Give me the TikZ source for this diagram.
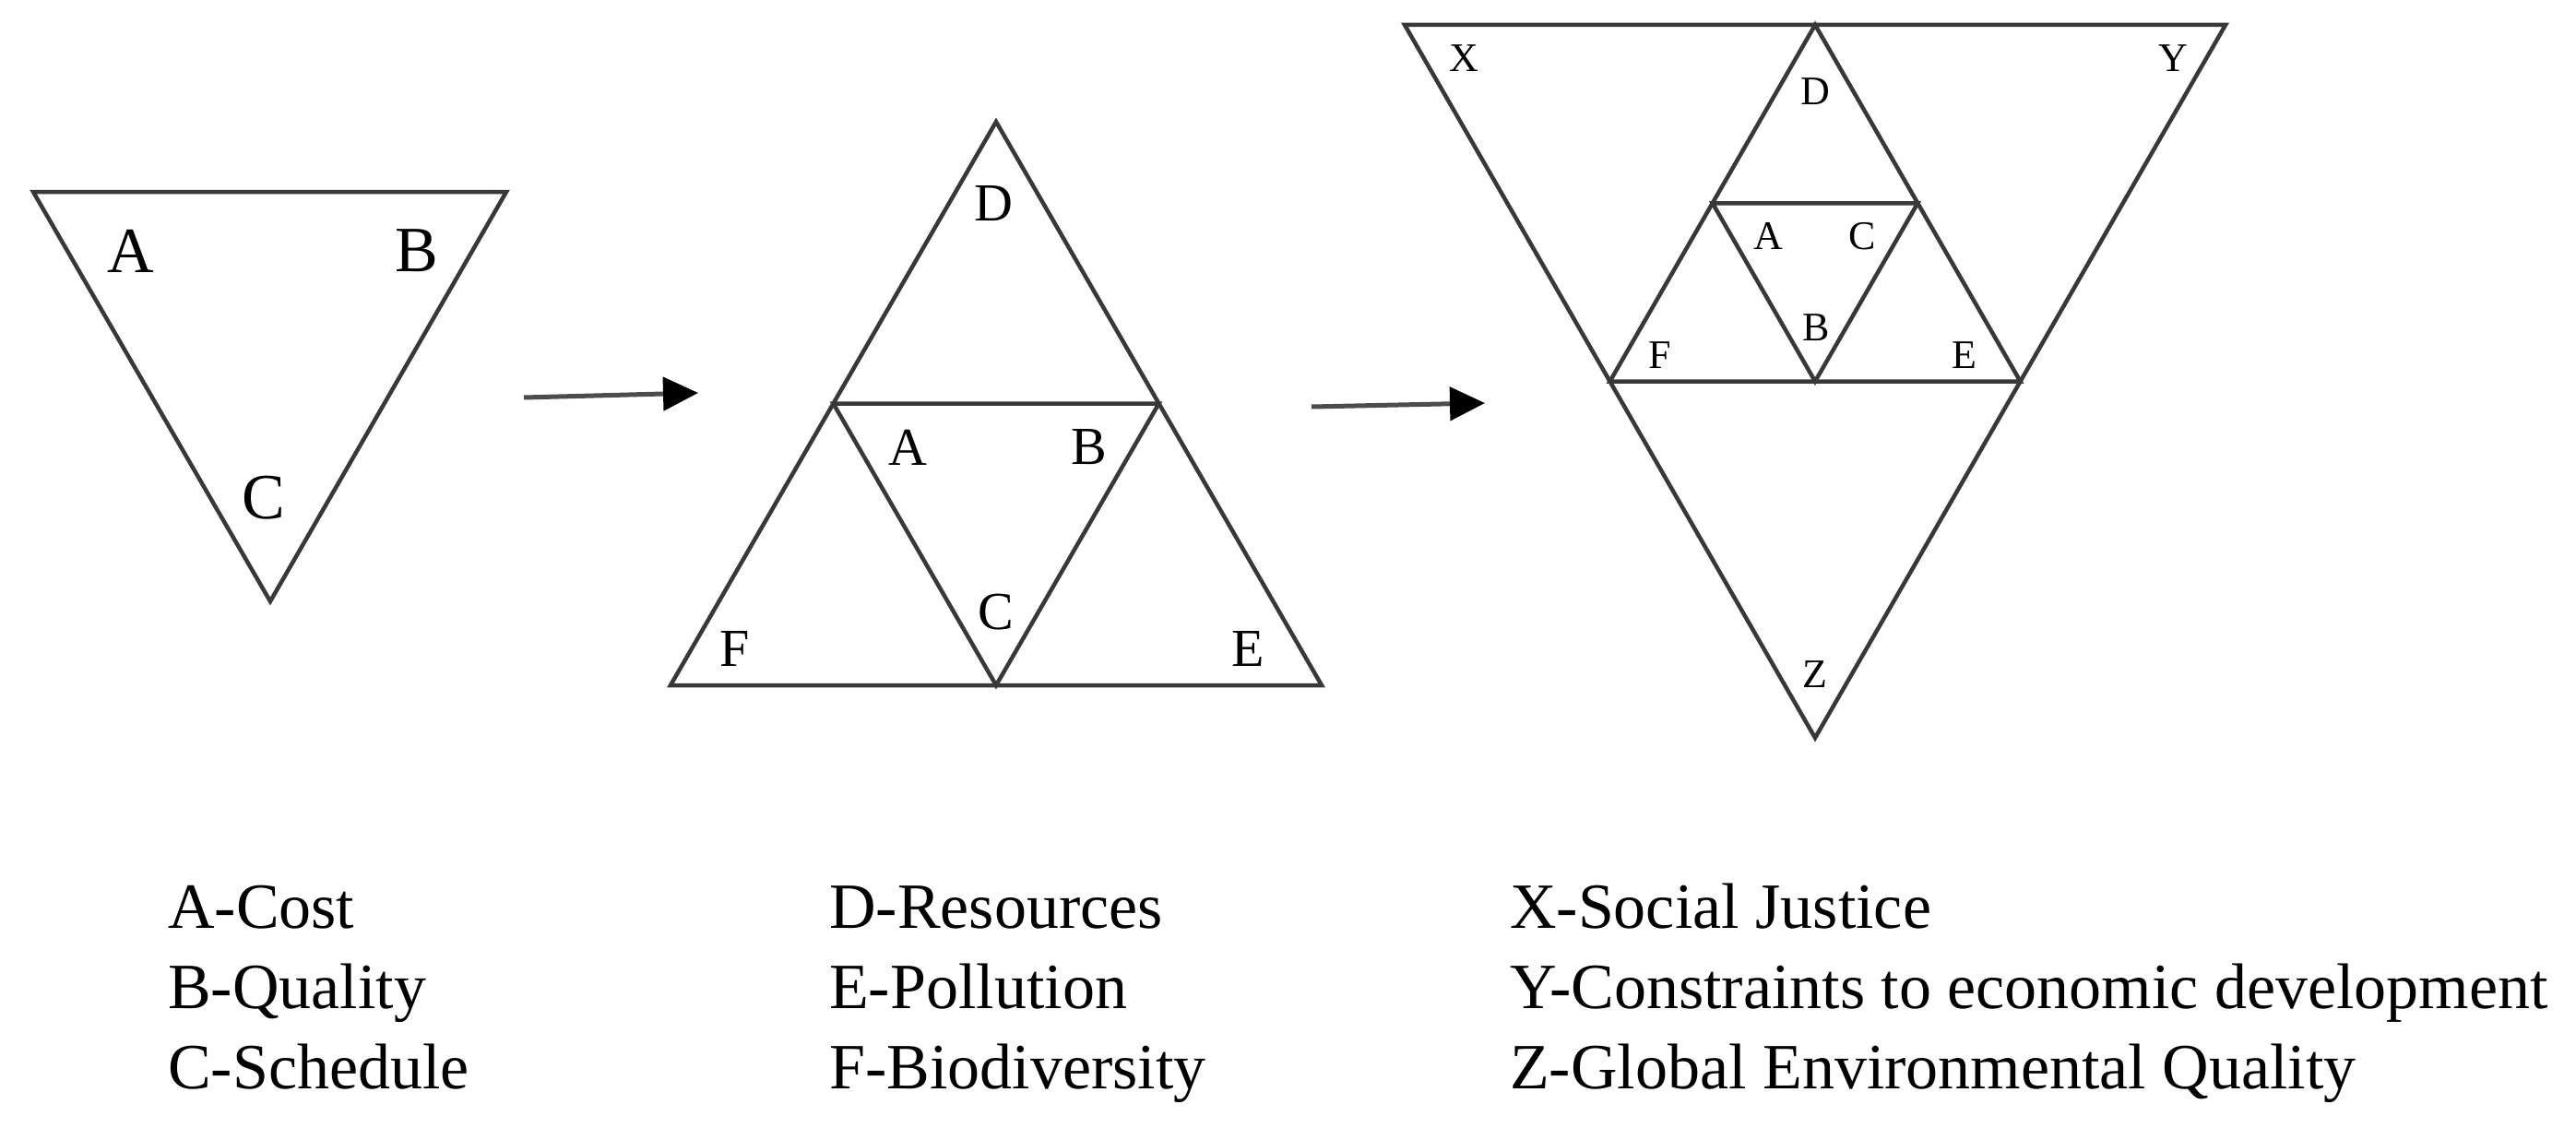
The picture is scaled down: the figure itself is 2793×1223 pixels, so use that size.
\documentclass[tikz,border=0pt]{standalone}
\usepackage{fontspec}
\setmainfont{Liberation Serif}
\usetikzlibrary{arrows.meta,calc}
\begin{document}
\begin{tikzpicture}[x=1pt,y=-1pt,
  tri/.style={draw=black!78, line width=4.5pt, line join=miter},
  flow/.style={draw=black!70, line width=5pt, -{Triangle[length=38pt,width=36pt,color=black]}},
  labbig/.style={inner sep=0pt, font=\fontsize{70}{70}\selectfont},
  labmid/.style={inner sep=0pt, font=\fontsize{58}{58}\selectfont},
  labsmall/.style={inner sep=0pt, font=\fontsize{44}{44}\selectfont},
  legend/.style={inner sep=0pt, anchor=base west, font=\fontsize{70}{84}\selectfont}]
\useasboundingbox[fill=white] (0,0) rectangle (2793,1223);

% ---------- triangle 1 ----------
\coordinate (t1a) at (36,208);
\coordinate (t1b) at (549,208);
\coordinate (t1c) at (293,652);
\draw[tri] (t1a) -- (t1b) -- (t1c) -- cycle;
\node[labbig] (l1A) at (142,272) {A};
\node[labbig] (l1B) at (452,272) {B};
\node[labbig] (l1C) at (286,540) {C};

% ---------- arrow 1 ----------
\coordinate (a1s) at (568,431);
\coordinate (a1e) at (757,426);
\draw[flow] (a1s) -- (a1e);

% ---------- triangle 2 ----------
\coordinate (t2a) at (1080,132);
\coordinate (t2b) at (727,743);
\coordinate (t2c) at (1433,743);
\coordinate (t2m1) at ($(t2a)!0.5!(t2b)$);
\coordinate (t2m2) at ($(t2a)!0.5!(t2c)$);
\coordinate (t2m3) at ($(t2b)!0.5!(t2c)$);
\draw[tri] (t2a) -- (t2b) -- (t2c) -- cycle;
\draw[tri] (t2m1) -- (t2m2) -- (t2m3) -- cycle;
\node[labmid] (l2D) at (1077,221) {D};
\node[labmid] (l2A) at (984,485) {A};
\node[labmid] (l2B) at (1181,485) {B};
\node[labmid] (l2C) at (1080,664) {C};
\node[labmid] (l2F) at (797,704) {F};
\node[labmid] (l2E) at (1353,704) {E};

% ---------- arrow 2 ----------
\coordinate (a2s) at (1422,441);
\coordinate (a2e) at (1610,437);
\draw[flow] (a2s) -- (a2e);

% ---------- triangle 3 ----------
\coordinate (t3a) at (1523,27);
\coordinate (t3b) at (2413,27);
\coordinate (t3c) at (1968,800);
\coordinate (t3top) at ($(t3a)!0.5!(t3b)$);
\coordinate (t3l) at ($(t3a)!0.5!(t3c)$);
\coordinate (t3r) at ($(t3b)!0.5!(t3c)$);
\coordinate (t3il) at ($(t3top)!0.5!(t3l)$);
\coordinate (t3ir) at ($(t3top)!0.5!(t3r)$);
\coordinate (t3ib) at ($(t3l)!0.5!(t3r)$);
\draw[tri] (t3a) -- (t3b) -- (t3c) -- cycle;
\draw[tri] (t3top) -- (t3l) -- (t3r) -- cycle;
\draw[tri] (t3il) -- (t3ir) -- (t3ib) -- cycle;
\node[labsmall] (l3X) at (1587,63) {X};
\node[labsmall] (l3Y) at (2356,63) {Y};
\node[labsmall] (l3D) at (1968,99) {D};
\node[labsmall] (l3A) at (1917,256) {A};
\node[labsmall] (l3C) at (2019,256) {C};
\node[labsmall] (l3B) at (1969,355) {B};
\node[labsmall] (l3F) at (1800,385) {F};
\node[labsmall] (l3E) at (2130,385) {E};
\node[labsmall] (l3Z) at (1968,731) {Z};

% ---------- legends ----------
\node[legend] (gA) at (182,1006) {A-Cost};
\node[legend] (gB) at (182,1093) {B-Quality};
\node[legend] (gC) at (182,1180) {C-Schedule};
\node[legend] (gD) at (899,1006) {D-Resources};
\node[legend] (gE) at (899,1093) {E-Pollution};
\node[legend] (gF) at (899,1180) {F-Biodiversity};
\node[legend] (gX) at (1637,1006) {X-Social Justice};
\node[legend] (gY) at (1637,1093) {Y-Constraints to economic development};
\node[legend] (gZ) at (1637,1180) {Z-Global Environmental Quality};
\end{tikzpicture}
\end{document}
